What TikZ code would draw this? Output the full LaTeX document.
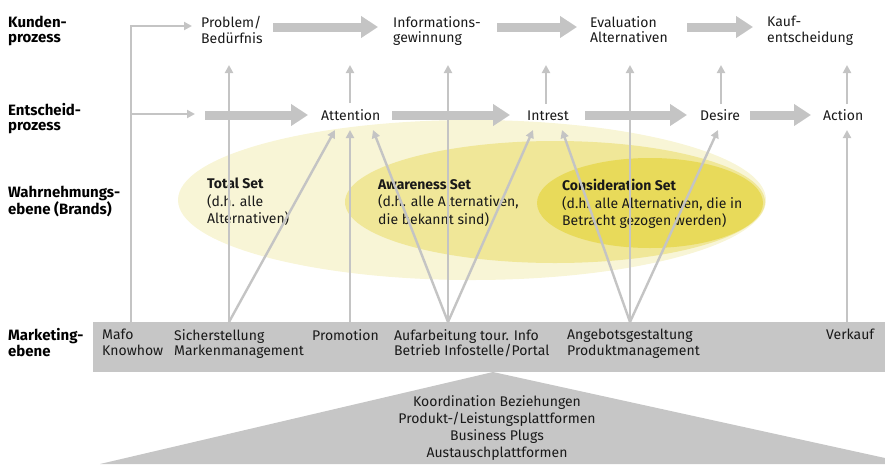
\documentclass[tikz,border=0pt]{standalone}
\usepackage{fontspec}
\setmainfont{Fira Sans}
\usetikzlibrary{arrows.meta}
\definecolor{barc}{RGB}{198,198,198}
\definecolor{arrc}{RGB}{196,196,196}
\definecolor{ylA}{RGB}{248,245,214}
\definecolor{ylB}{RGB}{240,231,152}
\definecolor{ylC}{RGB}{232,218,90}
\definecolor{txtc}{RGB}{25,25,25}
\begin{document}
\begin{tikzpicture}[x=1pt,y=-1pt,
  every node/.style={inner sep=0pt, text=txtc},
  tx/.style={font=\fontsize{14}{15.5}\selectfont, align=left, anchor=north west},
  lbl/.style={font=\fontsize{15}{15.5}\selectfont\bfseries, align=left, anchor=north west, text=black},
  et/.style={font=\fontsize{14}{17.5}\selectfont, align=left, anchor=north west},
  one/.style={font=\fontsize{14}{15.5}\selectfont, anchor=base west},
  thinarr/.style={draw=arrc, line width=2.4pt, -{Triangle[length=8pt,width=8pt]}},
  thinline/.style={draw=arrc, line width=2.4pt},
  bigarr/.style={draw=arrc, line width=9pt, -{Triangle[length=17pt,width=21pt]}},
]
\useasboundingbox (0,0) rectangle (885,464);

% perception ellipses
\fill[ylA] (472,200) ellipse [x radius=294, y radius=80];
\fill[ylB] (555,202) ellipse [x radius=210, y radius=61];
\fill[ylC] (650,203) ellipse [x radius=113, y radius=45];

% marketing bar and triangle
\fill[barc] (493,372) -- (100,464) -- (885,464) -- (885,458) -- cycle;
\node[fill=barc, minimum width=792pt, minimum height=50pt, anchor=north west] (bar) at (93,322) {};

% left labels
\node[lbl] (lk) at (8,15.5) {Kunden-\\prozess};
\node[lbl] (le) at (8,103) {Entscheid-\\prozess};
\node[lbl] (lw) at (8,186) {Wahrnehmungs-\\ebene (Brands)};
\node[lbl] (lm) at (8,328.5) {Marketing-\\ebene};

% customer process
\node[tx] (prob) at (201,16) {Problem/\\Bedürfnis};
\node[tx] (info) at (393,16) {Informations-\\gewinnung};
\node[tx] (eval) at (590,16) {Evaluation\\Alternativen};
\node[tx] (kauf) at (767,16) {Kauf-\\entscheidung};

% decision process
\node[one] (att) at (321,120) {Attention};
\node[one] (int) at (527,120) {Intrest};
\node[one] (des) at (700,120) {Desire};
\node[one] (act) at (823,120) {Action};

% sets
\node[et] (ts) at (207,178) {\textbf{Total Set}\\(d.h. alle\\Alternativen)};
\node[et] (as) at (378,179) {\textbf{Awareness Set}\\(d.h. alle Alternativen,\\die bekannt sind)};
\node[et] (cs) at (562,179) {\textbf{Consideration Set}\\(d.h. alle Alternativen, die in\\Betracht gezogen werden)};

% marketing items
\node[tx] (mafo) at (102,329) {Mafo\\Knowhow};
\node[tx] (sich) at (174,329) {Sicherstellung\\Markenmanagement};
\node[tx] (prom) at (312,329) {Promotion};
\node[tx] (aufa) at (394,329) {Aufarbeitung tour. Info\\Betrieb Infostelle/Portal};
\node[tx] (ange) at (567,329) {Angebotsgestaltung\\Produktmanagement};
\node[tx] (verk) at (826,329) {Verkauf};

% platform triangle text
\node[font=\fontsize{14}{17}\selectfont, align=center, anchor=north] (plat) at (497,395.5) {Koordination Beziehungen\\Produkt-/Leistungsplattformen\\Business Plugs\\Austauschplattformen};

% coordinates
\coordinate (b131) at (131,322);
\coordinate (b229) at (229,322);
\coordinate (b350) at (350,322);
\coordinate (b448) at (448,322);
\coordinate (b630) at (630,322);
\coordinate (b847) at (847,322);
\coordinate (pin) at (192,26);
\coordinate (ein) at (195,114);
\coordinate (ebr) at (131,114);

% big arrows
\draw[bigarr] (273,27) -- (378,27);
\draw[bigarr] (497,27) -- (577,27);
\draw[bigarr] (687,27) -- (753,27);
\draw[bigarr] (205,115) -- (308,115);
\draw[bigarr] (392,115) -- (510,115);
\draw[bigarr] (585,115) -- (687,115);
\draw[bigarr] (750,115) -- (811,115);

% thin connectors
\draw[thinarr] (b131) |- (pin);
\draw[thinarr] (ebr) -- (ein);
\draw[thinarr] (b229) -- (229,65);
\draw[thinarr] (b229) -- (335,130);
\draw[thinarr] (b350) -- (350,130);
\draw[thinarr] (350,103) -- (350,65);
\draw[thinarr] (b448) -- (373,130);
\draw[thinarr] (b448) -- (448,65);
\draw[thinarr] (b448) -- (533,130);
\draw[thinarr] (546,104) -- (546,65);
\draw[thinarr] (b630) -- (562,130);
\draw[thinarr] (b630) -- (630,65);
\draw[thinarr] (b630) -- (718,130);
\draw[thinarr] (721,104) -- (721,65);
\draw[thinarr] (b847) -- (847,130);
\draw[thinarr] (847,104) -- (847,65);
\end{tikzpicture}
\end{document}
